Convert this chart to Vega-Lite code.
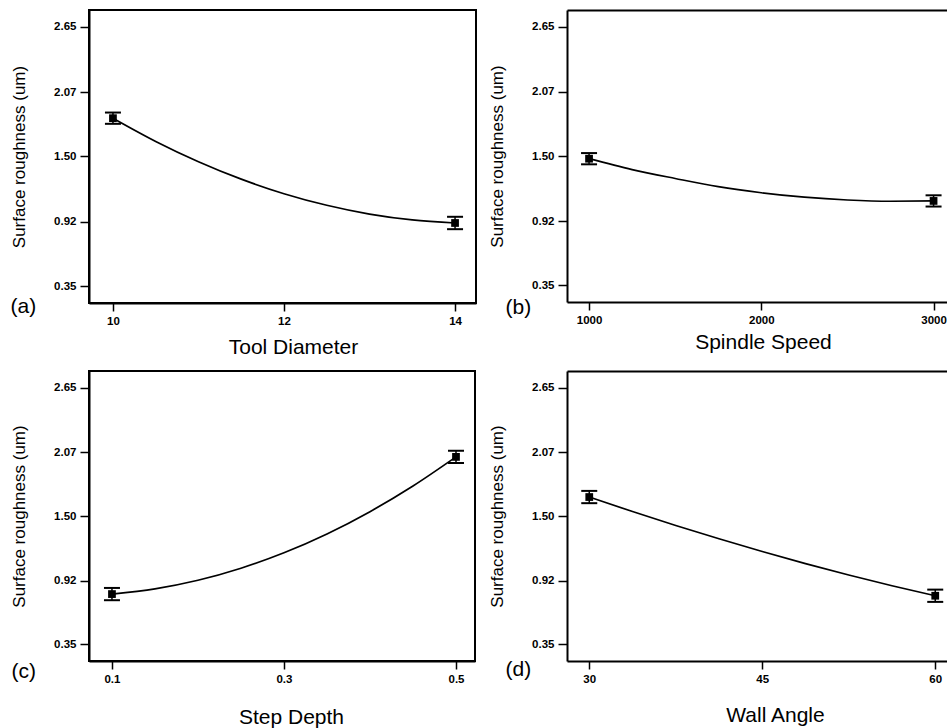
{
  "$schema": "https://vega.github.io/schema/vega-lite/v6.json",
  "padding": {"left": 9, "top": 9, "right": 0, "bottom": 0},
  "background": "white",
  "datasets": {
    "curves": [
      {"panel": "a", "x": 10, "y": 1.84}, {"panel": "a", "x": 10.5, "y": 1.634}, {"panel": "a", "x": 11, "y": 1.454},
      {"panel": "a", "x": 11.5, "y": 1.299}, {"panel": "a", "x": 12, "y": 1.17}, {"panel": "a", "x": 12.5, "y": 1.067},
      {"panel": "a", "x": 13, "y": 0.989}, {"panel": "a", "x": 13.5, "y": 0.937}, {"panel": "a", "x": 14, "y": 0.91},
      {"panel": "b", "x": 1000, "y": 1.476}, {"panel": "b", "x": 1250, "y": 1.379}, {"panel": "b", "x": 1500, "y": 1.3},
      {"panel": "b", "x": 1750, "y": 1.227}, {"panel": "b", "x": 2000, "y": 1.173}, {"panel": "b", "x": 2250, "y": 1.133},
      {"panel": "b", "x": 2500, "y": 1.108}, {"panel": "b", "x": 2750, "y": 1.097}, {"panel": "b", "x": 3000, "y": 1.1},
      {"panel": "c", "x": 0.1, "y": 0.8}, {"panel": "c", "x": 0.15, "y": 0.847}, {"panel": "c", "x": 0.2, "y": 0.924},
      {"panel": "c", "x": 0.25, "y": 1.032}, {"panel": "c", "x": 0.3, "y": 1.17}, {"panel": "c", "x": 0.35, "y": 1.339},
      {"panel": "c", "x": 0.4, "y": 1.539}, {"panel": "c", "x": 0.45, "y": 1.769}, {"panel": "c", "x": 0.5, "y": 2.03},
      {"panel": "d", "x": 30, "y": 1.67}, {"panel": "d", "x": 33.75, "y": 1.54}, {"panel": "d", "x": 37.5, "y": 1.415},
      {"panel": "d", "x": 41.25, "y": 1.296}, {"panel": "d", "x": 45, "y": 1.182}, {"panel": "d", "x": 48.75, "y": 1.073},
      {"panel": "d", "x": 52.5, "y": 0.971}, {"panel": "d", "x": 56.25, "y": 0.875}, {"panel": "d", "x": 60, "y": 0.785}
    ],
    "points": [
      {"panel": "a", "x": 10, "y": 1.84, "lo": 1.79, "hi": 1.89},
      {"panel": "a", "x": 14, "y": 0.91, "lo": 0.855, "hi": 0.965},
      {"panel": "b", "x": 1000, "y": 1.476, "lo": 1.426, "hi": 1.526},
      {"panel": "b", "x": 3000, "y": 1.1, "lo": 1.05, "hi": 1.15},
      {"panel": "c", "x": 0.1, "y": 0.8, "lo": 0.745, "hi": 0.855},
      {"panel": "c", "x": 0.5, "y": 2.03, "lo": 1.975, "hi": 2.085},
      {"panel": "d", "x": 30, "y": 1.67, "lo": 1.615, "hi": 1.725},
      {"panel": "d", "x": 60, "y": 0.785, "lo": 0.73, "hi": 0.84}
    ]
  },
  "columns": 2,
  "spacing": {"column": 11, "row": 11},
  "concat": [
    {
      "width": 387, "height": 293,
      "title": {"text": "(a)", "orient": "bottom", "anchor": "start", "frame": "bounds", "offset": 0, "dy": -62, "dx": 0},
      "layer": [
        {"data": {"name": "curves"}, "transform": [{"filter": "datum.panel === 'a'"}],
         "mark": {"type": "line", "color": "black", "strokeWidth": 1.7, "interpolate": "monotone"},
         "encoding": {
           "x": {"field": "x", "type": "quantitative", "title": "Tool Diameter", "scale": {"domain": [9.72, 14.245], "nice": false, "zero": false}, "axis": {"values": [10, 12, 14], "format": "d", "titleX": 204, "titlePadding": 10}},
           "y": {"field": "y", "type": "quantitative", "title": "Surface roughness (um)", "scale": {"domain": [0.2, 2.8], "nice": false, "zero": false}, "axis": {"values": [0.35, 0.92, 1.5, 2.07, 2.65], "format": ".2f"}}}},
        {"data": {"name": "points"}, "transform": [{"filter": "datum.panel === 'a'"}],
         "mark": {"type": "rule", "color": "black", "strokeWidth": 1.5},
         "encoding": {"x": {"field": "x", "type": "quantitative", "title": "Tool Diameter"}, "y": {"field": "lo", "type": "quantitative", "title": "Surface roughness (um)"}, "y2": {"field": "hi"}}},
        {"data": {"name": "points"}, "transform": [{"filter": "datum.panel === 'a'"}],
         "mark": {"type": "tick", "orient": "horizontal", "size": 16, "thickness": 2, "color": "black", "opacity": 1},
         "encoding": {"x": {"field": "x", "type": "quantitative", "title": "Tool Diameter"}, "y": {"field": "lo", "type": "quantitative", "title": "Surface roughness (um)"}}},
        {"data": {"name": "points"}, "transform": [{"filter": "datum.panel === 'a'"}],
         "mark": {"type": "tick", "orient": "horizontal", "size": 16, "thickness": 2, "color": "black", "opacity": 1},
         "encoding": {"x": {"field": "x", "type": "quantitative", "title": "Tool Diameter"}, "y": {"field": "hi", "type": "quantitative", "title": "Surface roughness (um)"}}},
        {"data": {"name": "points"}, "transform": [{"filter": "datum.panel === 'a'"}],
         "mark": {"type": "square", "size": 60, "color": "black", "opacity": 1, "filled": true},
         "encoding": {"x": {"field": "x", "type": "quantitative", "title": "Tool Diameter"}, "y": {"field": "y", "type": "quantitative", "title": "Surface roughness (um)"}}}
      ]
    },
    {
      "width": 380, "height": 292,
      "view": {"stroke": null},
      "title": {"text": "(b)", "orient": "bottom", "anchor": "start", "frame": "bounds", "offset": 0, "dy": -56, "dx": 17},
      "resolve": {"axis": {"x": "independent"}},
      "layer": [
        {"data": {"name": "curves"}, "transform": [{"filter": "datum.panel === 'b'"}],
         "mark": {"type": "line", "color": "black", "strokeWidth": 1.7, "interpolate": "monotone"},
         "encoding": {
           "x": {"field": "x", "type": "quantitative", "title": "Spindle Speed", "scale": {"domain": [872, 3078], "nice": false, "zero": false}, "axis": {"values": [1000, 2000, 3000], "format": "d", "titleX": 196, "titlePadding": 6}},
           "y": {"field": "y", "type": "quantitative", "title": "Surface roughness (um)", "scale": {"domain": [0.2, 2.8], "nice": false, "zero": false}, "axis": {"values": [0.35, 0.92, 1.5, 2.07, 2.65], "format": ".2f"}}}},
        {"data": {"name": "points"}, "transform": [{"filter": "datum.panel === 'b'"}],
         "mark": {"type": "rule", "color": "black", "strokeWidth": 1.5},
         "encoding": {"x": {"field": "x", "type": "quantitative", "axis": null}, "y": {"field": "lo", "type": "quantitative", "title": "Surface roughness (um)"}, "y2": {"field": "hi"}}},
        {"data": {"name": "points"}, "transform": [{"filter": "datum.panel === 'b'"}],
         "mark": {"type": "tick", "orient": "horizontal", "size": 16, "thickness": 2, "color": "black", "opacity": 1},
         "encoding": {"x": {"field": "x", "type": "quantitative", "axis": null}, "y": {"field": "lo", "type": "quantitative", "title": "Surface roughness (um)"}}},
        {"data": {"name": "points"}, "transform": [{"filter": "datum.panel === 'b'"}],
         "mark": {"type": "tick", "orient": "horizontal", "size": 16, "thickness": 2, "color": "black", "opacity": 1},
         "encoding": {"x": {"field": "x", "type": "quantitative", "axis": null}, "y": {"field": "hi", "type": "quantitative", "title": "Surface roughness (um)"}}},
        {"data": {"name": "points"}, "transform": [{"filter": "datum.panel === 'b'"}],
         "mark": {"type": "square", "size": 60, "color": "black", "opacity": 1, "filled": true},
         "encoding": {"x": {"field": "x", "type": "quantitative", "axis": {"orient": "top", "labels": false, "ticks": false, "title": null, "domain": true}}, "y": {"field": "y", "type": "quantitative", "title": "Surface roughness (um)"}}}
      ]
    },
    {
      "width": 386, "height": 290,
      "title": {"text": "(c)", "orient": "bottom", "anchor": "start", "frame": "bounds", "offset": 0, "dy": -67, "dx": 1},
      "layer": [
        {"data": {"name": "curves"}, "transform": [{"filter": "datum.panel === 'c'"}],
         "mark": {"type": "line", "color": "black", "strokeWidth": 1.7, "interpolate": "monotone"},
         "encoding": {
           "x": {"field": "x", "type": "quantitative", "title": "Step Depth", "scale": {"domain": [0.0733, 0.5221], "nice": false, "zero": false}, "axis": {"values": [0.1, 0.3, 0.5], "format": ".1f", "titleX": 202, "titlePadding": 22}},
           "y": {"field": "y", "type": "quantitative", "title": "Surface roughness (um)", "scale": {"domain": [0.2, 2.8], "nice": false, "zero": false}, "axis": {"values": [0.35, 0.92, 1.5, 2.07, 2.65], "format": ".2f"}}}},
        {"data": {"name": "points"}, "transform": [{"filter": "datum.panel === 'c'"}],
         "mark": {"type": "rule", "color": "black", "strokeWidth": 1.5},
         "encoding": {"x": {"field": "x", "type": "quantitative", "title": "Step Depth"}, "y": {"field": "lo", "type": "quantitative", "title": "Surface roughness (um)"}, "y2": {"field": "hi"}}},
        {"data": {"name": "points"}, "transform": [{"filter": "datum.panel === 'c'"}],
         "mark": {"type": "tick", "orient": "horizontal", "size": 16, "thickness": 2, "color": "black", "opacity": 1},
         "encoding": {"x": {"field": "x", "type": "quantitative", "title": "Step Depth"}, "y": {"field": "lo", "type": "quantitative", "title": "Surface roughness (um)"}}},
        {"data": {"name": "points"}, "transform": [{"filter": "datum.panel === 'c'"}],
         "mark": {"type": "tick", "orient": "horizontal", "size": 16, "thickness": 2, "color": "black", "opacity": 1},
         "encoding": {"x": {"field": "x", "type": "quantitative", "title": "Step Depth"}, "y": {"field": "hi", "type": "quantitative", "title": "Surface roughness (um)"}}},
        {"data": {"name": "points"}, "transform": [{"filter": "datum.panel === 'c'"}],
         "mark": {"type": "square", "size": 60, "color": "black", "opacity": 1, "filled": true},
         "encoding": {"x": {"field": "x", "type": "quantitative", "title": "Step Depth"}, "y": {"field": "y", "type": "quantitative", "title": "Surface roughness (um)"}}}
      ]
    },
    {
      "width": 380, "height": 290,
      "view": {"stroke": null},
      "title": {"text": "(d)", "orient": "bottom", "anchor": "start", "frame": "bounds", "offset": 0, "dy": -67, "dx": 17},
      "resolve": {"axis": {"x": "independent"}},
      "layer": [
        {"data": {"name": "curves"}, "transform": [{"filter": "datum.panel === 'd'"}],
         "mark": {"type": "line", "color": "black", "strokeWidth": 1.7, "interpolate": "monotone"},
         "encoding": {
           "x": {"field": "x", "type": "quantitative", "title": "Wall Angle", "scale": {"domain": [28.07, 61.02], "nice": false, "zero": false}, "axis": {"values": [30, 45, 60], "format": "d", "titleX": 208, "titlePadding": 20}},
           "y": {"field": "y", "type": "quantitative", "title": "Surface roughness (um)", "scale": {"domain": [0.2, 2.8], "nice": false, "zero": false}, "axis": {"values": [0.35, 0.92, 1.5, 2.07, 2.65], "format": ".2f"}}}},
        {"data": {"name": "points"}, "transform": [{"filter": "datum.panel === 'd'"}],
         "mark": {"type": "rule", "color": "black", "strokeWidth": 1.5},
         "encoding": {"x": {"field": "x", "type": "quantitative", "axis": null}, "y": {"field": "lo", "type": "quantitative", "title": "Surface roughness (um)"}, "y2": {"field": "hi"}}},
        {"data": {"name": "points"}, "transform": [{"filter": "datum.panel === 'd'"}],
         "mark": {"type": "tick", "orient": "horizontal", "size": 16, "thickness": 2, "color": "black", "opacity": 1},
         "encoding": {"x": {"field": "x", "type": "quantitative", "axis": null}, "y": {"field": "lo", "type": "quantitative", "title": "Surface roughness (um)"}}},
        {"data": {"name": "points"}, "transform": [{"filter": "datum.panel === 'd'"}],
         "mark": {"type": "tick", "orient": "horizontal", "size": 16, "thickness": 2, "color": "black", "opacity": 1},
         "encoding": {"x": {"field": "x", "type": "quantitative", "axis": null}, "y": {"field": "hi", "type": "quantitative", "title": "Surface roughness (um)"}}},
        {"data": {"name": "points"}, "transform": [{"filter": "datum.panel === 'd'"}],
         "mark": {"type": "square", "size": 60, "color": "black", "opacity": 1, "filled": true},
         "encoding": {"x": {"field": "x", "type": "quantitative", "axis": {"orient": "top", "labels": false, "ticks": false, "title": null, "domain": true}}, "y": {"field": "y", "type": "quantitative", "title": "Surface roughness (um)"}}}
      ]
    }
  ],
  "config": {
    "font": "Liberation Sans",
    "view": {"stroke": "black", "strokeWidth": 2},
    "axis": {"grid": false, "domainColor": "black", "domainWidth": 2, "tickColor": "black", "tickWidth": 1.5, "labelColor": "black", "labelFont": "Liberation Sans", "labelFontSize": 11.5, "labelFontWeight": "bold", "titleColor": "black", "titleFont": "Liberation Sans", "titleFontWeight": "normal"},
    "axisX": {"tickSize": 8, "labelPadding": 4, "titleFontSize": 21},
    "axisY": {"tickSize": 9, "labelPadding": 4, "titleFontSize": 17, "titlePadding": 25},
    "title": {"fontSize": 21, "fontWeight": "normal", "color": "black", "font": "Liberation Sans"}
  }
}
